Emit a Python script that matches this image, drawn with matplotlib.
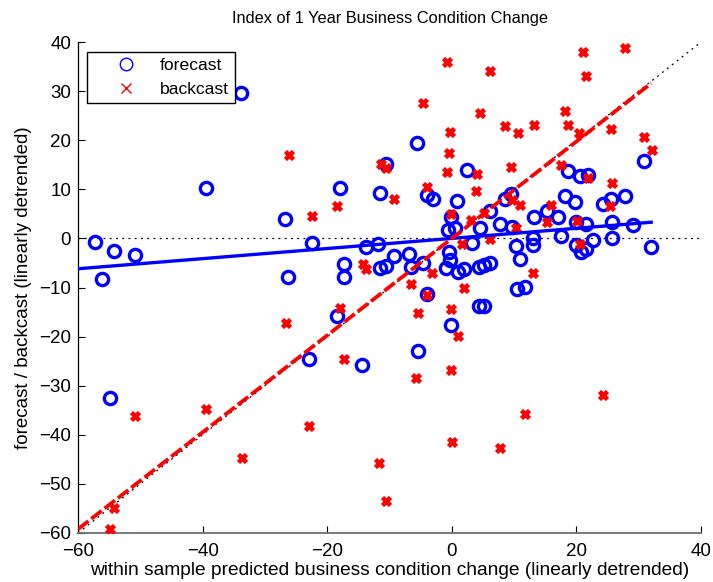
import numpy as np
import matplotlib
matplotlib.use("Agg")
import matplotlib.pyplot as plt
from matplotlib.lines import Line2D

plt.rcParams["font.family"] = ["Liberation Sans", "DejaVu Sans"]

# forecast points (blue circles)
forecast_x = [-57.2, -56.1, -54.3, -50.8, -54.9, -33.8, -39.5, -26.7, -26.3, -22.5,
              -23.0, -18.4, -17.9, -17.3, -17.3, -11.6, -10.5, -13.8, -11.9, -14.4,
              -11.5, -10.6, -9.2, -6.8, -6.6, -5.6, -5.4, -4.7, -4.0, -3.1,
              -4.0, -0.1, -0.6, 0.5, -0.4, -0.3, -0.9, -0.2, 0.9, 1.0,
              2.0, 2.5, 3.2, 4.3, 5.1, 4.4, 4.5, 5.2, 6.1, 6.2,
              7.7, 8.5, 9.5, 9.6, 10.3, 11.0, 10.5, 11.7, 13.1, 13.1,
              13.2, 15.2, 17.1, 17.5, 18.1, 19.8, 18.6, 20.6, 21.9, 20.0,
              21.6, 20.0, 20.8, 21.6, 22.7, 24.2, 25.5, 25.7, 25.7, 27.8,
              29.1, 30.9, 32.0]
forecast_y = [-0.8, -8.3, -2.5, -3.4, -32.5, 29.6, 10.3, 3.9, -7.9, -1.0,
              -24.6, -15.8, 10.2, -5.3, -7.9, 9.2, 15.1, -1.7, -1.2, -25.8,
              -6.0, -5.6, -3.5, -3.2, -5.8, 19.4, -22.9, -5.1, 8.8, 8.0,
              -11.4, 4.3, 1.7, 2.2, -2.7, -4.4, -6.0, -17.6, 7.7, -6.8,
              -6.3, 13.9, -1.0, -5.8, -5.4, -13.8, 2.1, -13.7, 5.6, -5.1,
              2.9, 8.0, 9.0, 2.4, -1.5, -4.1, -10.4, -9.8, 0.0, -1.3,
              4.4, 5.6, 4.4, 0.4, 8.6, 7.5, 13.8, 12.7, 12.9, 3.4,
              2.9, -1.3, -2.7, -2.2, -0.3, 7.0, 8.0, 3.4, 0.0, 8.7,
              2.7, 15.8, -1.7]

# backcast points (red crosses)
backcast_x = [-50.9, -39.5, -54.3, -54.9, -33.6, -23.0, -11.7, -10.6, 0.1, 24.2,
              11.8, 7.8, -26.2, -26.6, -22.4, -18.5, -17.9, -17.3, -14.3, -13.8,
              -11.4, -10.5, -9.2, -6.5, -5.7, -5.4, -4.7, -4.0, -4.0, -3.2,
              -0.8, -0.3, -0.4, -0.7, -0.1, -0.2, -0.2, 1.0, 1.6, 2.0,
              3.0, 3.9, 4.1, 4.5, 5.1, 6.2, 6.1, 8.5, 9.5, 9.6,
              10.6, 10.9, 10.3, 13.2, 13.1, 15.9, 15.2, 17.5, 18.1, 18.6,
              20.4, 20.1, 20.6, 21.1, 21.6, 21.8, 25.6, 25.7, 25.4, 27.8,
              30.9, 32.1]
backcast_y = [-36.1, -34.8, -55.0, -59.2, -44.7, -38.3, -45.8, -53.5, -41.5, -31.8,
              -35.8, -42.6, 17.0, -17.2, 4.6, 6.6, -14.1, -24.6, -5.3, -6.3,
              15.1, 14.3, 8.0, -9.3, -28.5, -15.1, 27.6, 10.4, -11.5, -7.1,
              35.9, 21.6, 17.3, 13.5, 4.9, -14.4, -26.9, -19.9, -1.1, -10.0,
              3.7, 9.7, 13.1, 25.5, 5.1, 34.1, -0.1, 22.8, 14.6, 7.8,
              21.5, 6.8, 2.2, 23.0, -7.1, 6.9, 3.4, 15.0, 25.9, 23.2,
              21.4, 3.6, -1.2, 37.9, 33.1, 12.4, 22.2, 11.3, 6.7, 38.8,
              20.6, 18.1]

# fitted lines: slope, intercept and x range
forecast_fit = [0.103, 0.0]
backcast_fit = [0.987, 0.0]
fit_range = [-60, 32]
ref_range = [-60, 40]


def main():
    fig = plt.figure(figsize=(7.13, 5.82), dpi=100)
    ax = fig.add_axes([0.1094, 0.0842, 0.8738, 0.8436])

    dots = (1.5, 3.5)
    ax.plot(ref_range, ref_range, color="black", lw=0.9, dashes=dots, zorder=1)
    ax.plot(ref_range, [0, 0], color="black", lw=0.9, dashes=dots, zorder=1)

    ax.plot(forecast_x, forecast_y, "o", mfc="none", mec="blue", ms=8.8, mew=2.4,
            zorder=3)
    ax.plot(backcast_x, backcast_y, "x", color="red", ms=6.2, mew=3.3, zorder=3)

    fx = np.array(fit_range, dtype=float)
    ax.plot(fx, forecast_fit[0] * fx + forecast_fit[1], color="blue", lw=2.4,
            zorder=4)
    ax.plot(fx, backcast_fit[0] * fx + backcast_fit[1], color="red", lw=2.7,
            dashes=(3.5, 1.0), zorder=4)

    ax.set_xlim(-60, 40)
    ax.set_ylim(-60, 40)
    ax.set_xticks(np.arange(-60, 41, 20))
    ax.set_yticks(np.arange(-60, 41, 10))
    ax.set_xticklabels([str(v).replace("-", "\u2212") for v in range(-60, 41, 20)])
    ax.set_yticklabels([str(v).replace("-", "\u2212") for v in range(-60, 41, 10)])
    ax.tick_params(direction="in", length=5, width=0.8, labelsize=13.5)
    ax.tick_params(axis="x", pad=7)
    ax.tick_params(axis="y", pad=5)

    ax.spines["top"].set_visible(False)
    ax.spines["right"].set_visible(False)
    ax.spines["left"].set_linewidth(0.9)
    ax.spines["bottom"].set_linewidth(1.3)
    ax.spines["bottom"].set_color("#707070")

    ax.set_title("Index of 1 Year Business Condition Change", fontsize=11.8, pad=14)
    ax.set_xlabel("within sample predicted business condition change (linearly detrended)",
                  fontsize=13.8, labelpad=2)
    ax.set_ylabel("forecast / backcast (linearly detrended)", fontsize=13.5, labelpad=5)

    handles = [
        Line2D([], [], ls="none", marker="o", mfc="none", mec="blue", ms=9, mew=1),
        Line2D([], [], ls="none", marker="x", color="red", ms=7, mew=1),
    ]
    leg = ax.legend(handles, ["forecast", "backcast"], loc="upper left",
                    bbox_to_anchor=(0.014, 0.98), borderaxespad=0, fancybox=False,
                    framealpha=1, edgecolor="black", fontsize=12.6,
                    handletextpad=0.06, borderpad=0.35, labelspacing=0.47,
                    handlelength=3.76)
    leg.get_frame().set_linewidth(1.0)
    leg.set_zorder(10)

    fig.savefig("out.png", dpi=100)


if __name__ == "__main__":
    main()
